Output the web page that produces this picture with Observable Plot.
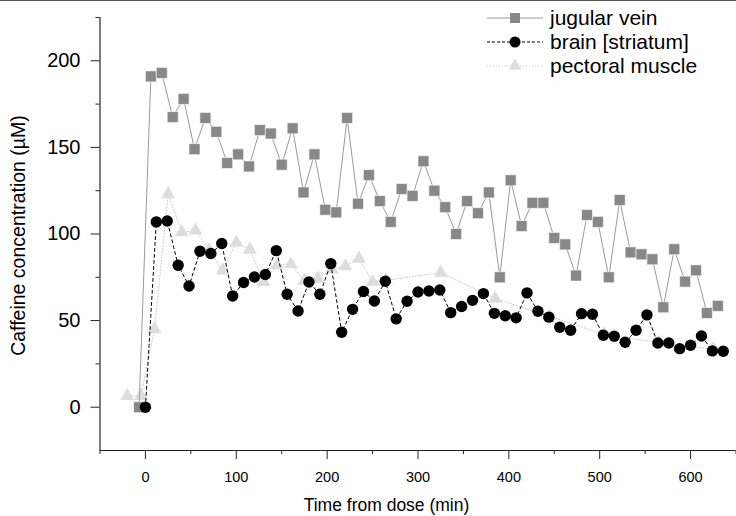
<!DOCTYPE html>
<html>
<head>
<meta charset="utf-8">
<script src="https://cdn.jsdelivr.net/npm/d3@7"></script>
<script src="https://cdn.jsdelivr.net/npm/@observablehq/plot@0.6"></script>
<style>
  html, body { margin: 0; padding: 0; background: #fff; }
  #wrap { position: relative; width: 736px; height: 516px; overflow: hidden;
          font-family: "Liberation Sans", Arial, sans-serif; }
  #topline { position: absolute; left: 0; top: 0; width: 736px; height: 1px; background: #555; }
  #legend { position: absolute; left: 486px; top: 6px; }
  .row { display: flex; align-items: center; height: 24px; }
  .row svg { display: block; }
  .row span { font-size: 21px; color: #000; margin-left: 6px; line-height: 24px; }
</style>
</head>
<body>
<div id="wrap"><div id="topline"></div><div id="legend"></div></div>
<script>
// ---- data ----
const jugTime = [-7, 6, 18, 30, 42, 54, 66, 78, 90, 102, 114, 126, 138, 150, 162, 174, 186, 198, 210, 222, 234, 246, 258, 270, 282, 294, 306, 318, 330, 342, 354, 366, 378, 390, 402, 414, 426, 438, 450, 462, 474, 486, 498, 510, 522, 534, 546, 558, 570, 582, 594, 606, 618, 630];
const jugConc = [0, 191, 193, 167.5, 178, 149, 167, 159, 141, 146, 139, 160, 158, 140, 161, 124, 146, 114, 112.5, 167, 117.5, 134, 119, 107, 126, 122, 142, 125, 115.5, 100, 119, 112, 124, 75, 131, 104.6, 118, 118, 97.7, 94, 76, 111, 107, 75, 119.6, 89.4, 88.3, 85.4, 57.7, 91.2, 72.5, 79, 54.4, 58.5];

const brainTime = [0, 12, 24, 36, 48, 60, 72, 84, 96, 108, 120, 132, 144, 156, 168, 180, 192, 204, 216, 228, 240, 252, 264, 276, 288, 300, 312, 324, 336, 348, 360, 372, 384, 396, 408, 420, 432, 444, 456, 468, 480, 492, 504, 516, 528, 540, 552, 564, 576, 588, 600, 612, 624, 636];
const brainConc = [0, 107, 107.5, 82, 70, 90, 88.7, 94.5, 64.2, 72, 75.2, 76.6, 90.4, 65.2, 55.5, 72.3, 65.2, 82.9, 43.3, 56.5, 66.8, 61.3, 72.7, 51, 61.2, 66.5, 67.1, 67.7, 54.6, 58.1, 61.7, 65.6, 54.2, 52.8, 51.6, 66, 55.4, 52, 46.2, 44.4, 54, 53.7, 41.5, 41, 37.5, 44.4, 53.3, 37.1, 37.1, 33.8, 35.8, 41.1, 32.5, 32.3];

const pecTime = [-20, -5, 10, 25, 40, 55, 70, 85, 100, 115, 130, 145, 160, 175, 190, 205, 220, 235, 250, 265, 325, 385, 445, 505, 565, 625];
const pecConc = [6.5, 6.5, 45, 123, 101, 102, 90.6, 79, 95, 91, 72.3, 82, 82.5, 73, 74.2, 79.6, 81.4, 85.8, 72.3, 73.3, 77.7, 62.7, 52.5, 42, 37.3, 33.5];

const xMajor = [0, 100, 200, 300, 400, 500, 600];
const xMinor = [-50, 50, 150, 250, 350, 450, 550, 650];
const yMajor = [0, 50, 100, 150, 200];
const yMinor = [25, 75, 125, 175, 225];
const seriesNames = ["jugular vein", "brain [striatum]", "pectoral muscle"];
const xTitle = "Time from dose (min)";
const yTitle = "Caffeine concentration (µM)";

// ---- tables built from the arrays ----
const jug = jugTime.map((t, i) => ({t, c: jugConc[i]}));
const brain = brainTime.map((t, i) => ({t, c: brainConc[i]}));
const pec = pecTime.map((t, i) => ({t, c: pecConc[i]}));

const C = {
  jugLine: "#9a9a9a", jugFill: "#888888",
  brain: "#000000",
  pecLine: "#c8c8c8", pecFill: "#dddddd",
  axis: "#222222"
};

const chart = Plot.plot({
  width: 736,
  height: 516,
  marginLeft: 99.5,
  marginRight: 0.5,
  marginTop: 17,
  marginBottom: 66,
  style: {fontFamily: '"Liberation Sans", Arial, sans-serif', background: "transparent"},
  x: {domain: [-50, 650]},
  y: {domain: [-25, 225]},
  marks: [
    // axes
    Plot.axisX({ticks: xMajor, tickSize: 9, tickPadding: 12, fontSize: 14.5, label: null, stroke: C.axis, color: "#000"}),
    Plot.axisX({ticks: xMinor, tickSize: 4, tickFormat: () => "", label: null, stroke: C.axis}),
    Plot.axisY({ticks: yMajor, tickSize: 9, tickPadding: 10.5, fontSize: 20, label: null, stroke: C.axis, color: "#000"}),
    Plot.axisY({ticks: yMinor, tickSize: 4, tickFormat: () => "", label: null, stroke: C.axis}),
    Plot.ruleY([-25], {stroke: C.axis, strokeWidth: 1.2}),
    Plot.ruleX([-50], {stroke: C.axis, strokeWidth: 1.2}),
    Plot.text([xTitle], {frameAnchor: "bottom", textAnchor: "middle", lineAnchor: "middle", dx: -31.5, dy: 55, fontSize: 17.5, fill: "#000"}),
    Plot.text([yTitle], {frameAnchor: "left", textAnchor: "middle", lineAnchor: "middle", dx: -81, dy: 1.5, rotate: -90, fontSize: 19.5, fill: "#000"}),
    // pectoral muscle
    Plot.line(pec, {x: "t", y: "c", stroke: C.pecLine, strokeWidth: 1, strokeDasharray: "1,2"}),
    Plot.dot(pec, {x: "t", y: "c", symbol: "triangle", r: 5.2, fill: C.pecFill, stroke: null}),
    // jugular vein
    Plot.line(jug, {x: "t", y: "c", stroke: C.jugLine, strokeWidth: 1}),
    Plot.dot(jug, {x: "t", y: "c", symbol: "square", r: 6.2, fill: C.jugFill, stroke: "#fff", strokeWidth: 0.6}),
    // brain
    Plot.line(brain, {x: "t", y: "c", stroke: C.brain, strokeWidth: 1, strokeDasharray: "3,3"}),
    Plot.dot(brain, {x: "t", y: "c", symbol: "circle", r: 5.7, fill: C.brain, stroke: null})
  ]
});
document.getElementById("wrap").prepend(chart);

// ---- legend ----
const legendSpecs = [
  {name: seriesNames[0], stroke: C.jugLine, dash: null, sym: d3.symbolSquare, size: 100, fill: C.jugFill},
  {name: seriesNames[1], stroke: C.brain, dash: "3,2", sym: d3.symbolCircle, size: 5.5 * 5.5 * Math.PI, fill: C.brain},
  {name: seriesNames[2], stroke: C.pecLine, dash: "1,2", sym: d3.symbolTriangle, size: 5.2 * 5.2 * Math.PI * 0.85, fill: C.pecFill}
];
const leg = d3.select("#legend");
for (const s of legendSpecs) {
  const row = leg.append("div").attr("class", "row");
  const svg = row.append("svg").attr("width", 58).attr("height", 24);
  svg.append("line").attr("x1", 1).attr("x2", 57).attr("y1", 12).attr("y2", 12)
    .attr("stroke", s.stroke).attr("stroke-width", 1).attr("stroke-dasharray", s.dash);
  svg.append("path").attr("d", d3.symbol(s.sym, s.size)()).attr("transform", "translate(29,12)").attr("fill", s.fill);
  row.append("span").text(s.name);
}
</script>
</body>
</html>
